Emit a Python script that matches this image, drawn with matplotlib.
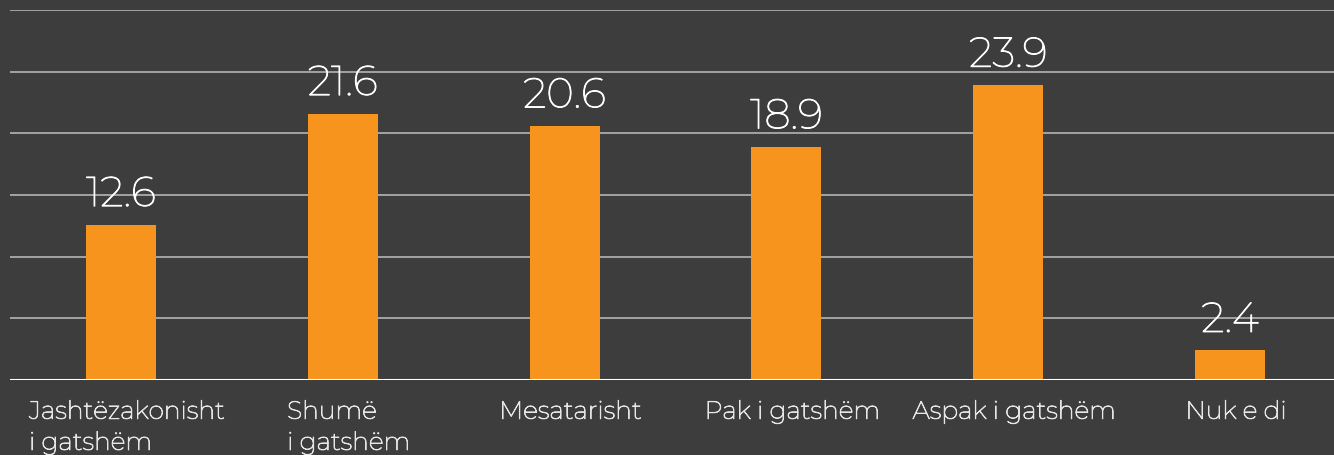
import matplotlib.pyplot as plt
import matplotlib.patheffects as pe
import matplotlib.transforms as mtransforms
import numpy as np

# Të dhënat
kategorite = ["Jashtëzakonisht\ni gatshëm", "Shumë\ni gatshëm", "Mesatarisht",
              "Pak i gatshëm", "Aspak i gatshëm", "Nuk e di"]
vlerat = [12.6, 21.6, 20.6, 18.9, 23.9, 2.4]
yticks = [0, 5, 10, 15, 20, 25, 30]

BG = "#3d3d3d"
ORANGE = "#f7941d"
LABEL_COLOR = "#e6e6e6"

plt.rcParams["font.family"] = ["Montserrat", "DejaVu Sans"]

fig = plt.figure(figsize=(13.34, 4.55), dpi=100, facecolor=BG)
W, H = 1334, 455
ax = fig.add_axes([10 / W, (H - 380) / H, 1331 / W, 370 / H])
ax.set_facecolor(BG)

x = np.arange(len(vlerat))
ax.bar(x, vlerat, width=0.315, color=ORANGE, zorder=2)

# montserrat eshte e holle ketu, e trashim pak me nje stroke
thick_white = [pe.withStroke(linewidth=0.7, foreground="white")]
thick_label = [pe.withStroke(linewidth=0.6, foreground=LABEL_COLOR)]

for xi, v in zip(x, vlerat):
    ax.text(xi, v + 1.5, f"{v:.1f}", ha="center", va="baseline",
            fontsize=30, color="white", zorder=3, path_effects=thick_white)

ax.set_xlim(-0.5, len(vlerat) - 0.5)
ax.set_ylim(0, 30)
ax.set_yticks(yticks)
ax.set_yticklabels([])
ax.yaxis.grid(True, color="#b5b5b5", linewidth=1.2, zorder=1)
ax.tick_params(axis="y", length=0)
ax.set_axisbelow(True)

ax.axhline(0, color="white", linewidth=2.2, zorder=4)

ax.set_xticks(x)
ax.set_xticklabels(kategorite, fontsize=18, color=LABEL_COLOR,
                   linespacing=1.45, multialignment="left")
ax.tick_params(axis="x", length=0, pad=15)
shift = mtransforms.ScaledTranslation(6 / 100, 0, fig.dpi_scale_trans)
for lbl in ax.get_xticklabels():
    lbl.set_transform(lbl.get_transform() + shift)
    lbl.set_path_effects(thick_label)

for s in ax.spines.values():
    s.set_visible(False)

fig.savefig("out.png", dpi=100, facecolor=BG)
